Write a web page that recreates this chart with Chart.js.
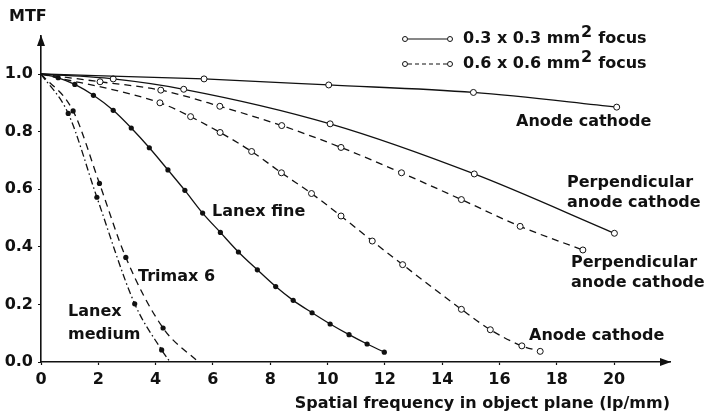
<!DOCTYPE html>
<html>
<head>
<meta charset="utf-8">
<script src="https://cdn.jsdelivr.net/npm/chart.js@4"></script>
<style>
  html, body { margin: 0; padding: 0; background: #fff; }
  #wrap { width: 706px; height: 415px; }
</style>
</head>
<body>
<div id="wrap"><canvas id="mtfChart"></canvas></div>
<script>
// spatial frequency (lp/mm) and MTF readings for each curve
const acSmallX = [0, 5.69, 10.04, 15.09, 20.09];
const acSmallY = [1, 0.983, 0.962, 0.936, 0.885];

const perpSmallX = [0, 2.52, 4.98, 10.09, 15.12, 20.01];
const perpSmallY = [1, 0.983, 0.947, 0.827, 0.653, 0.447];

const perpLargeX = [0, 2.06, 4.18, 6.24, 8.4, 10.47, 12.58, 14.67, 16.72, 18.91];
const perpLargeY = [1, 0.973, 0.944, 0.888, 0.821, 0.745, 0.657, 0.564, 0.471, 0.389];

const acLargeX = [0, 4.15, 5.22, 6.25, 7.35, 8.39, 9.44, 10.47, 11.56, 12.62, 14.67, 15.68, 16.78, 17.42];
const acLargeY = [1, 0.90, 0.852, 0.797, 0.731, 0.657, 0.585, 0.507, 0.42, 0.338, 0.183, 0.112, 0.056, 0.037];

const lanexFineX = [0, 0.6, 1.18, 1.83, 2.52, 3.15, 3.78, 4.43, 5.02, 5.64, 6.26, 6.89, 7.55, 8.19, 8.8, 9.46, 10.09, 10.75, 11.38, 11.98];
const lanexFineY = [1, 0.987, 0.964, 0.926, 0.874, 0.8125, 0.744, 0.667, 0.596, 0.517, 0.45, 0.382, 0.32, 0.262, 0.214, 0.171, 0.132, 0.095, 0.0625, 0.034];

const trimaxX = [0, 1.12, 2.04, 2.96, 4.26, 5.49];
const trimaxY = [1, 0.872, 0.62, 0.363, 0.118, 0];

const lanexMedX = [0, 0.95, 1.95, 3.27, 4.21, 4.5];
const lanexMedY = [1, 0.863, 0.572, 0.202, 0.042, 0];

const xTicks = [0, 2, 4, 6, 8, 10, 12, 14, 16, 18, 20];
const yTicks = [0, 0.2, 0.4, 0.6, 0.8, 1.0];

const FONT = "'DejaVu Sans', sans-serif";

function pts(xs, ys) {
  return xs.map((x, i) => ({ x: x, y: ys[i] }));
}

// no marker where a curve starts at 1.0 or runs out at 0.0
function markerRadius(r) {
  return ctx => {
    const p = ctx.raw;
    return (p && (p.x === 0 || p.y === 0)) ? 0 : r;
  };
}

function openSeries(xs, ys, dash) {
  return {
    data: pts(xs, ys),
    borderColor: "#111",
    borderWidth: 1.3,
    borderDash: dash,
    pointRadius: markerRadius(3),
    pointBackgroundColor: "#fff",
    pointBorderColor: "#111",
    pointBorderWidth: 1,
    cubicInterpolationMode: "monotone"
  };
}

function filledSeries(xs, ys, dash) {
  return {
    data: pts(xs, ys),
    borderColor: "#111",
    borderWidth: 1.3,
    borderDash: dash,
    pointRadius: markerRadius(2.6),
    pointBackgroundColor: "#111",
    pointBorderColor: "#111",
    pointBorderWidth: 0,
    cubicInterpolationMode: "monotone"
  };
}

const DASH = [7, 5];
const DASHDOT = [7, 3, 1.5, 3];

// arrows, curve captions, legend and the MTF heading
const decorations = {
  id: "decorations",
  afterDraw(chart) {
    const c = chart.ctx;
    const a = chart.chartArea;
    c.save();
    c.fillStyle = "#111";
    c.strokeStyle = "#111";

    // arrow heads on both axes
    c.beginPath();
    c.moveTo(a.left, a.top - 1);
    c.lineTo(a.left - 4, a.top + 10);
    c.lineTo(a.left + 4, a.top + 10);
    c.closePath();
    c.fill();
    c.beginPath();
    c.moveTo(a.right + 1, a.bottom);
    c.lineTo(a.right - 10, a.bottom - 4);
    c.lineTo(a.right - 10, a.bottom + 4);
    c.closePath();
    c.fill();

    c.font = "bold 16px " + FONT;
    c.textBaseline = "middle";
    c.textAlign = "left";
    c.fillText("MTF", 9, 17);

    const captions = [
      ["Anode cathode", 516, 122],
      ["Perpendicular", 567, 183],
      ["anode cathode", 567, 203],
      ["Perpendicular", 571, 263],
      ["anode cathode", 571, 283],
      ["Anode cathode", 529, 336],
      ["Lanex fine", 212, 212],
      ["Trimax 6", 138, 277],
      ["Lanex", 68, 312],
      ["medium", 68, 335]
    ];
    captions.forEach(([t, x, y]) => c.fillText(t, x, y));

    // legend
    const rows = [
      { y: 39, dash: [], label: "0.3 x 0.3 mm" },
      { y: 64, dash: [4, 3], label: "0.6 x 0.6 mm" }
    ];
    rows.forEach(r => {
      c.lineWidth = 1.2;
      c.setLineDash(r.dash);
      c.beginPath();
      c.moveTo(408, r.y);
      c.lineTo(447, r.y);
      c.stroke();
      c.setLineDash([]);
      [405, 450].forEach(cx => {
        c.beginPath();
        c.arc(cx, r.y, 2.5, 0, Math.PI * 2);
        c.fillStyle = "#fff";
        c.fill();
        c.lineWidth = 1;
        c.stroke();
      });
      c.fillStyle = "#111";
      c.font = "bold 16px " + FONT;
      c.fillText(r.label, 463, r.y);
      let x = 463 + c.measureText(r.label).width + 1;
      c.fillText("2", x, r.y - 6);
      x += c.measureText("2").width + 6;
      c.fillText("focus", x, r.y);
    });
    c.restore();
  }
};

new Chart(document.getElementById("mtfChart"), {
  type: "line",
  data: {
    datasets: [
      openSeries(acSmallX, acSmallY, []),
      openSeries(perpSmallX, perpSmallY, []),
      openSeries(perpLargeX, perpLargeY, DASH),
      openSeries(acLargeX, acLargeY, DASH),
      filledSeries(lanexFineX, lanexFineY, []),
      filledSeries(trimaxX, trimaxY, DASH),
      filledSeries(lanexMedX, lanexMedY, DASHDOT)
    ]
  },
  options: {
    responsive: true,
    maintainAspectRatio: false,
    animation: false,
    layout: { padding: { left: 0, right: 36, top: 36, bottom: 0 } },
    plugins: {
      legend: { display: false },
      tooltip: { enabled: false }
    },
    scales: {
      x: {
        type: "linear",
        min: 0,
        max: 21.95,
        afterFit: s => { s.height = 53; },
        afterBuildTicks: s => { s.ticks = xTicks.map(v => ({ value: v })); },
        grid: { drawOnChartArea: false, color: "#111", tickLength: 3, tickWidth: 1.2 },
        border: { display: true, color: "#111", width: 1.6 },
        ticks: {
          color: "#111",
          padding: 5,
          maxRotation: 0,
          font: { family: FONT, size: 16, weight: "bold" }
        },
        title: {
          display: true,
          text: "Spatial frequency in object plane (lp/mm)",
          align: "end",
          color: "#111",
          padding: { top: 0, bottom: 2 },
          font: { family: FONT, size: 16, weight: "bold" }
        }
      },
      y: {
        type: "linear",
        min: 0,
        max: 1.132,
        afterFit: s => { s.width = 41; },
        afterBuildTicks: s => { s.ticks = yTicks.map(v => ({ value: v })); },
        grid: { drawOnChartArea: false, color: "#111", tickLength: 3, tickWidth: 1.2 },
        border: { display: true, color: "#111", width: 1.6 },
        ticks: {
          color: "#111",
          padding: 5,
          callback: v => v.toFixed(1),
          font: { family: FONT, size: 16, weight: "bold" }
        }
      }
    }
  },
  plugins: [decorations]
});
</script>
</body>
</html>
